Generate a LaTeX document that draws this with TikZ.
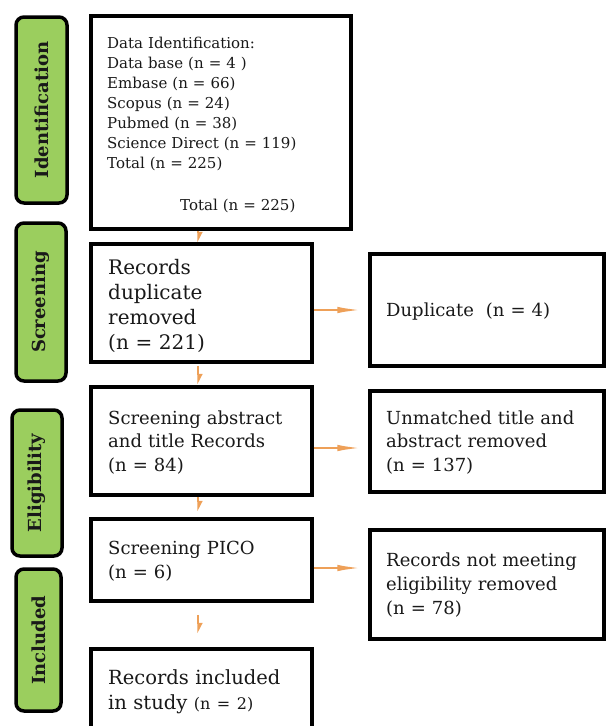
\documentclass[tikz,border=0pt]{standalone}
\usepackage{fontspec}
\setmainfont{DejaVu Serif}
\usetikzlibrary{arrows.meta}
\definecolor{phasegreen}{RGB}{155,206,94}
\definecolor{arrorange}{RGB}{238,160,88}
\definecolor{txtcol}{RGB}{25,25,25}
\begin{document}
\begin{tikzpicture}[x=1pt,y=-1pt,
  box/.style={draw=black, line width=3.5pt, fill=white, inner sep=0pt, anchor=center},
  phase/.style={draw=black, line width=3.5pt, fill=phasegreen, rounded corners=8pt, inner sep=0pt, rotate=90, anchor=center, font=\fontsize{18}{20}\selectfont\bfseries, text=txtcol},
  lbl/.style={anchor=base west, inner sep=0pt, align=left, text width=260pt, text=txtcol},
  varr/.style={draw=arrorange, line width=1.3pt, -{Triangle[harpoon, length=9pt, width=9pt]}},
  harr/.style={draw=arrorange, line width=2.2pt, -{Latex[length=24pt, width=6.5pt]}}
]
\useasboundingbox (0,0) rectangle (607,726);
% phases
\node[phase, minimum width=186pt, minimum height=51pt] (ident) at (41.5,110) {Identification};
\node[phase, minimum width=158pt, minimum height=50pt] (screen) at (41,302) {Screening};
\node[phase, minimum width=146pt, minimum height=50pt] (elig) at (37,483) {Eligibility};
\node[phase, minimum width=142pt, minimum height=45pt] (incl) at (38.5,640) {Included};
% boxes
\node[box, minimum width=260pt, minimum height=213pt] (box1) at (221,122.5) {};
\node[box, minimum width=221pt, minimum height=118pt] (box2) at (201.5,303) {};
\node[box, minimum width=234pt, minimum height=112pt] (r1) at (487,310) {};
\node[box, minimum width=221pt, minimum height=108pt] (box3) at (201.5,441) {};
\node[box, minimum width=234pt, minimum height=101pt] (r2) at (487,441.5) {};
\node[box, minimum width=221pt, minimum height=82pt] (box4) at (201.5,560) {};
\node[box, minimum width=234pt, minimum height=109pt] (r3) at (487,584.5) {};
\node[box, minimum width=221pt, minimum height=111pt] (box5) at (201.5,704.5) {};
% texts
\node[lbl, font=\fontsize{15}{20}\selectfont] (t1) at (107,48) {Data Identification:\\Data base (n = 4 )\\Embase (n = 66)\\Scopus (n = 24)\\Pubmed (n = 38)\\Science Direct (n = 119)\\Total (n = 225)};
\node[lbl, font=\fontsize{15}{20}\selectfont] (t1b) at (180,210) {Total (n = 225)};
\node[lbl, font=\fontsize{20}{25.3}\selectfont] (t2) at (108,274) {Records\\duplicate\\removed\\(n = 221)};
\node[lbl, font=\fontsize{18}{23.5}\selectfont] (tr1) at (386,316) {Duplicate~ (n = 4)};
\node[lbl, font=\fontsize{18}{23.5}\selectfont] (t3) at (108,424) {Screening abstract\\and title Records\\(n = 84)};
\node[lbl, font=\fontsize{18}{23.5}\selectfont] (tr2) at (386,424) {Unmatched title and\\abstract removed\\(n = 137)};
\node[lbl, font=\fontsize{18}{24}\selectfont] (t4) at (108,554) {Screening PICO\\(n = 6)};
\node[lbl, font=\fontsize{18}{24}\selectfont] (tr3) at (386,566) {Records not meeting\\eligibility removed\\(n = 78)};
\node[lbl, font=\fontsize{19.5}{25}\selectfont] (t5) at (108,684) {Records included\\in study {\fontsize{16}{20}\selectfont(n = 2)}};
% connectors
\coordinate (vx) at (198,0);
\coordinate (h1) at (0,310);
\coordinate (h2) at (0,448);
\coordinate (h3) at (0,568);
\draw[varr] (box1.south -| vx) -- (box2.north -| vx);
\draw[varr, shorten <=2pt, shorten >=1pt] (box2.south -| vx) -- (box3.north -| vx);
\draw[varr, shorten <=0pt, shorten >=6pt] (box3.south -| vx) -- (box4.north -| vx);
\draw[varr, shorten <=12pt, shorten >=14pt] (box4.south -| vx) -- (box5.north -| vx);
\draw[harr, shorten >=7pt] (box2.east |- h1) -- (r1.west |- h1);
\draw[harr, shorten >=7pt] (box3.east |- h2) -- (r2.west |- h2);
\draw[harr, shorten >=7pt] (box4.east |- h3) -- (r3.west |- h3);
\end{tikzpicture}
\end{document}
